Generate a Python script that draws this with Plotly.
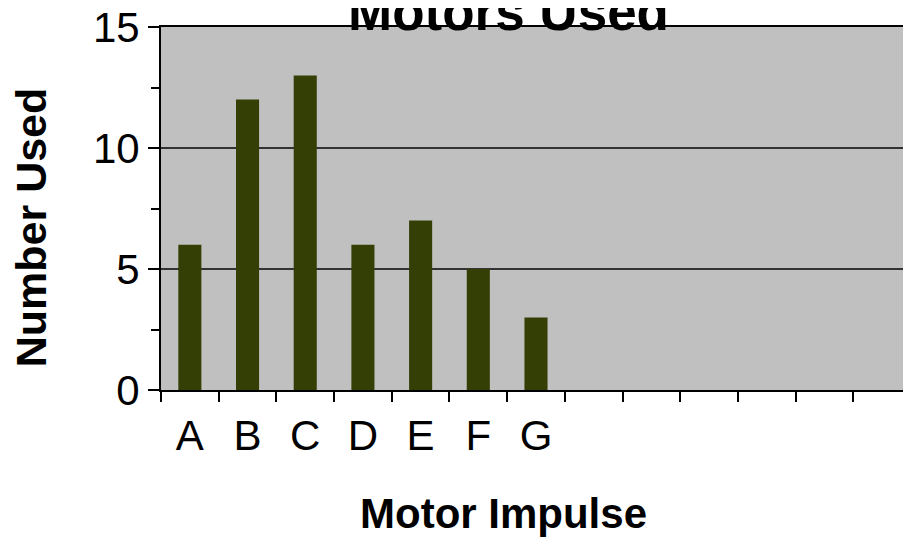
import plotly.graph_objects as go

categories = ["A", "B", "C", "D", "E", "F", "G"]
values = [6, 12, 13, 6, 7, 5, 3]
n_slots = 13
y_ticks = [0, 5, 10, 15]

FONT = "Liberation Sans, Arial, sans-serif"
x_pos = list(range(len(categories)))

fig = go.Figure()
fig.add_trace(go.Bar(
    x=x_pos, y=values, width=0.4,
    marker=dict(color="#333F05", line=dict(width=0)),
    hoverinfo="x+y",
))

# The page body has an 8px default margin, so the figure is sized/offset to fit the window.
fig.update_layout(
    width=903, height=532,
    margin=dict(l=153, r=0, t=19, b=150, autoexpand=False),
    paper_bgcolor="white",
    plot_bgcolor="#C0C0C0",
    showlegend=False,
    font=dict(family=FONT, color="black"),
    xaxis=dict(
        range=[-0.5, n_slots - 0.5],
        automargin=False,
        tickmode="array", tickvals=x_pos, ticktext=categories,
        ticks="", ticklabelstandoff=8,
        tickfont=dict(size=42, family=FONT),
        showgrid=False, zeroline=False,
        showline=True, linecolor="black", linewidth=2, mirror=True,
        minor=dict(tickmode="linear", tick0=-0.5, dtick=1, ticks="outside",
                   ticklen=10, tickwidth=1.5, tickcolor="black", showgrid=False),
    ),
    yaxis=dict(
        range=[0, 15],
        automargin=False,
        tickmode="array", tickvals=y_ticks,
        ticks="outside", ticklen=11, tickwidth=1.5, tickcolor="black",
        ticklabelstandoff=0, ticklabeloverflow="allow",
        tickfont=dict(size=42, family=FONT),
        showgrid=True, gridcolor="#333333", gridwidth=1.5,
        zeroline=False,
        showline=True, linecolor="black", linewidth=2,
        minor=dict(tickmode="linear", tick0=0, dtick=2.5, ticks="outside",
                   ticklen=8, tickwidth=1.5, tickcolor="black", showgrid=False),
    ),
    annotations=[
        dict(text="<b>Motors Used</b>", xref="paper", yref="paper",
             x=0.463, y=1, xanchor="center", yanchor="bottom", yshift=-16,
             showarrow=False, font=dict(size=53, family=FONT)),
        dict(text="<b>Motor Impulse</b>", xref="paper", yref="paper",
             x=0.456, y=0, xanchor="center", yanchor="middle", yshift=-123,
             showarrow=False, font=dict(size=42, family=FONT)),
        dict(text="<b>Number Used</b>", xref="paper", yref="paper",
             x=-0.173, y=0.449, xanchor="center", yanchor="middle",
             textangle=-90, showarrow=False, font=dict(size=43, family=FONT)),
    ],
)

fig.write_html("out.html")
